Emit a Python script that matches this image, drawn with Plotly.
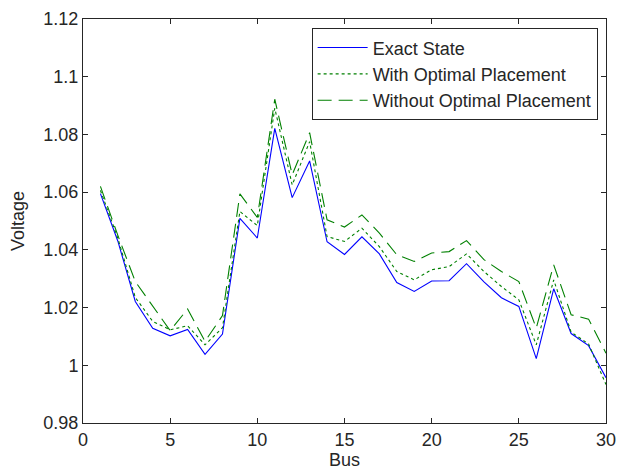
import plotly.graph_objects as go

bus = list(range(1, 31))
exact_state = [1.0595, 1.0430, 1.0221, 1.0128, 1.0102, 1.0124, 1.0038, 1.0108, 1.0509, 1.0441,
               1.0821, 1.0581, 1.0708, 1.0428, 1.0384, 1.0445, 1.0386, 1.0287, 1.0256, 1.0292,
               1.0293, 1.0352, 1.0289, 1.0234, 1.0204, 1.0023, 1.0265, 1.0110, 1.0068, 0.9957]
with_optimal = [1.0606, 1.0440, 1.0235, 1.0152, 1.0123, 1.0137, 1.0071, 1.0130, 1.0533, 1.0484,
                1.0891, 1.0625, 1.0775, 1.0446, 1.0429, 1.0475, 1.0411, 1.0325, 1.0296, 1.0331,
                1.0342, 1.0386, 1.0325, 1.0273, 1.0227, 1.0071, 1.0296, 1.0115, 1.0074, 0.9933]
without_optimal = [1.0620, 1.0450, 1.0290, 1.0205, 1.0120, 1.0195, 1.0083, 1.0172, 1.0594, 1.0512,
                   1.0922, 1.0660, 1.0806, 1.0504, 1.0479, 1.0521, 1.0458, 1.0383, 1.0360, 1.0389,
                   1.0394, 1.0432, 1.0366, 1.0325, 1.0290, 1.0129, 1.0348, 1.0175, 1.0160, 1.0042]

x_ticks = [0, 5, 10, 15, 20, 25, 30]
y_ticks = [0.98, 1.0, 1.02, 1.04, 1.06, 1.08, 1.1, 1.12]
y_tick_labels = ["0.98", "1", "1.02", "1.04", "1.06", "1.08", "1.1", "1.12"]

FONT = "Liberation Sans, Arial, sans-serif"
TXT = "#262626"

fig = go.Figure()
fig.add_trace(go.Scatter(x=bus, y=exact_state, mode="lines", name="Exact State",
                         line=dict(color="#0000FF", width=1.1)))
fig.add_trace(go.Scatter(x=bus, y=with_optimal, mode="lines", name="With Optimal Placement",
                         line=dict(color="#008000", width=1.1, dash="3px,3px")))
fig.add_trace(go.Scatter(x=bus, y=without_optimal, mode="lines", name="Without Optimal Placement",
                         line=dict(color="#008000", width=1.1, dash="14px,7px")))

axis_common = dict(showgrid=False, zeroline=False, showline=True, linecolor="#262626",
                   linewidth=1, mirror="ticks", ticks="inside", ticklen=5, tickcolor="#262626",
                   tickfont=dict(family=FONT, size=18, color=TXT), automargin=False)

fig.update_layout(
    width=618, height=470,
    margin=dict(l=83, r=12, t=19, b=47),
    paper_bgcolor="white", plot_bgcolor="white",
    font=dict(family=FONT, size=18, color=TXT),
    xaxis=dict(range=[0, 30], tickvals=x_ticks, ticktext=[str(v) for v in x_ticks],
               title=dict(text="Bus", font=dict(family=FONT, size=18, color=TXT), standoff=4),
               **axis_common),
    yaxis=dict(range=[0.98, 1.12], tickvals=y_ticks, ticktext=y_tick_labels,
               title=dict(text="Voltage", font=dict(family=FONT, size=18, color=TXT), standoff=14),
               **axis_common),
    legend=dict(x=0.984, y=0.977, xanchor="right", yanchor="top",
                bgcolor="white", bordercolor="#262626", borderwidth=1,
                font=dict(family=FONT, size=18, color=TXT), tracegroupgap=0,
                itemwidth=50),
    showlegend=True,
)

fig.write_html("out.html", config={"displayModeBar": False},
               post_script="document.body.style.margin='0';document.body.style.padding='0';")
